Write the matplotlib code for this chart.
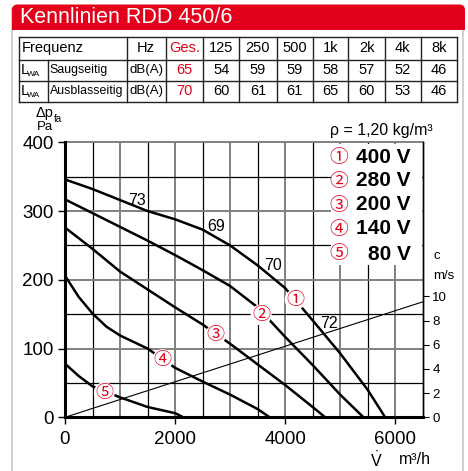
import matplotlib
matplotlib.use('Agg')
import matplotlib.pyplot as plt
from matplotlib.patches import FancyBboxPatch, Rectangle
from matplotlib.lines import Line2D

plt.rcParams['font.family'] = ['Liberation Sans', 'DejaVu Sans', 'Noto Sans CJK JP']
plt.rcParams['mathtext.fontset'] = 'custom'
plt.rcParams['mathtext.rm'] = 'Liberation Sans'
plt.rcParams['mathtext.it'] = 'Liberation Sans:italic'

# ---------------- data ----------------
title = "Kennlinien RDD 450/6"
freq_labels = ['125', '250', '500', '1k', '2k', '4k', '8k']
saug_total = 65
saug_values = [54, 59, 59, 58, 57, 52, 46]
ausb_total = 70
ausb_values = [60, 61, 61, 65, 60, 53, 46]

c1_x = [0, 500, 1000, 1500, 2000, 2500, 3000, 3500, 4000, 4500, 5000, 5500, 5818]
c1_y = [346, 332, 316, 300, 288, 273, 250, 221, 188, 141, 93, 40, 0]
c2_x = [0, 500, 1000, 1500, 2000, 2500, 3000, 3500, 4000, 4500, 5000, 5424]
c2_y = [317, 297, 277, 257, 236, 214, 191, 160, 117, 76, 33, 0]
c3_x = [0, 500, 1000, 1500, 2000, 2500, 3000, 3500, 4000, 4500, 4727]
c3_y = [276, 245, 212, 186, 160, 135, 107, 77, 47, 15, 0]
c4_x = [0, 250, 500, 750, 1000, 1500, 2000, 2500, 3000, 3500, 3720]
c4_y = [206, 175, 151, 132, 119, 100, 72, 52, 33, 12, 0]
c5_x = [0, 250, 500, 1000, 1500, 2000, 2150]
c5_y = [78, 60, 45, 29, 15, 6, 0]
curves_x = [c1_x, c2_x, c3_x, c4_x, c5_x]
curves_y = [c1_y, c2_y, c3_y, c4_y, c5_y]

marker_labels = ['①', '②', '③', '④', '⑤']
marker_x = [4182, 3564, 2727, 1776, 715]
marker_y = [171, 149, 119, 84, 36]
legend_labels = ['400 V', '280 V', '200 V', '140 V', '80 V']

noise_labels = ['73', '69', '70', '72']
noise_x = [1315, 2739, 3776, 4788]
noise_y = [316, 278, 221, 137]

c_line_x = [0, 6500]
c_line_v = [0, 9.55]

# ---------------- figure ----------------
W, H = 468, 471
fig = plt.figure(figsize=(W / 100, H / 100), dpi=100)

def fx(px):
    return px / W

def fy(py):
    return 1 - py / H

RED = '#e2001a'
CIRC_FONT = ['Noto Sans CJK JP', 'DejaVu Sans']
# outer frame
fig.patches.append(Rectangle((fx(12), fy(475)), fx(463) - fx(12), fy(8) - fy(475),
                             transform=fig.transFigure, fc='white', ec='#c8c8c8', lw=1.2, zorder=-10))
# title bar
fig.patches.append(FancyBboxPatch((fx(12), fy(30)), fx(465) - fx(12), fy(4.5) - fy(30),
                                  boxstyle='round,pad=0,rounding_size=0.012',
                                  transform=fig.transFigure, fc=RED, ec='none', zorder=-9))
fig.patches.append(Rectangle((fx(12), fy(30)), fx(465) - fx(12), fy(18) - fy(30),
                             transform=fig.transFigure, fc=RED, ec='none', zorder=-9))
fig.text(fx(20), fy(17.5), title, color='white', fontsize=15.5, va='center', ha='left')

# ---------------- table ----------------
col_b = [19, 126.7, 165.7, 203.3, 239.3, 276.7, 312.7, 348.3, 385, 420.7, 456.7]
row_b = [36.7, 60, 81, 101.7]
tcol = '#222222'
for x in col_b:
    fig.lines.append(Line2D([fx(x), fx(x)], [fy(row_b[0]), fy(row_b[-1])],
                            transform=fig.transFigure, color=tcol, lw=1.0))
for y in row_b:
    fig.lines.append(Line2D([fx(col_b[0]), fx(col_b[-1])], [fy(y), fy(y)],
                            transform=fig.transFigure, color=tcol, lw=1.0))
fig.lines.append(Line2D([fx(47.7), fx(47.7)], [fy(row_b[1]), fy(row_b[-1])],
                        transform=fig.transFigure, color=tcol, lw=1.0))

tfs = 10.5
rc = [(row_b[i] + row_b[i + 1]) / 2 for i in range(3)]
cc = [(col_b[i] + col_b[i + 1]) / 2 for i in range(len(col_b) - 1)]

fig.text(fx(21.5), fy(rc[0]), 'Frequenz', fontsize=tfs, va='center')
fig.text(fx(cc[1]), fy(rc[0]), 'Hz', fontsize=tfs, va='center', ha='center')
fig.text(fx(cc[2]), fy(rc[0]), 'Ges.', fontsize=tfs, va='center', ha='center', color=RED)
for i, lab in enumerate(freq_labels):
    fig.text(fx(cc[3 + i]), fy(rc[0]), lab, fontsize=tfs, va='center', ha='center')

for r, name, tot, vals in [(1, 'Saugseitig', saug_total, saug_values),
                           (2, 'Ausblasseitig', ausb_total, ausb_values)]:
    fig.text(fx(20.5), fy(rc[r]), 'L', fontsize=tfs, va='center')
    fig.text(fx(27.3), fy(rc[r] + 4.5), 'WA', fontsize=6, va='center')
    fig.text(fx(49.5), fy(rc[r]), name, fontsize=8.9, va='center')
    fig.text(fx(cc[1]), fy(rc[r]), 'dB(A)', fontsize=9.5, va='center', ha='center')
    fig.text(fx(cc[2]), fy(rc[r]), str(tot), fontsize=tfs, va='center', ha='center', color=RED)
    for i, v in enumerate(vals):
        fig.text(fx(cc[3 + i]), fy(rc[r]), str(v), fontsize=tfs, va='center', ha='center')

# ---------------- chart ----------------
L, R, T, B = 65, 422.7, 142.3, 417.3
ax = fig.add_axes([fx(L), fy(B), fx(R) - fx(L), fy(T) - fy(B)])
ax.set_xlim(0, 6500)
ax.set_ylim(0, 400)
ax.patch.set_alpha(0)

for x in range(500, 6500, 500):
    if x % 1000 == 0:
        ax.axvline(x, color='#808080', lw=1.4, zorder=1)
    else:
        ax.axvline(x, color='black', lw=0.9, zorder=1)
for y in range(50, 400, 50):
    if y % 100 == 0:
        ax.axhline(y, color='#808080', lw=1.4, zorder=1)
    else:
        ax.axhline(y, color='black', lw=0.9, zorder=1)

# legend white box
ax.add_patch(Rectangle((4836, 221), 6480 - 4836, 397 - 221, fc='white', ec='none', zorder=2))

for xs, ys in zip(curves_x, curves_y):
    ax.plot(xs, ys, color='black', lw=1.8, zorder=3, solid_capstyle='butt',
            solid_joinstyle='round')

for lab, x, y in zip(marker_labels, marker_x, marker_y):
    ax.text(x, y, lab, color=RED, fontsize=13, ha='center', va='center', zorder=4,
            family=CIRC_FONT,
            bbox=dict(boxstyle='circle,pad=0.08', fc='white', ec='none'))

for lab, x, y in zip(noise_labels, noise_x, noise_y):
    ax.text(x, y, lab, color='black', fontsize=11.5, ha='center', va='center', zorder=4)

# legend entries
leg_py = [157.3, 181, 205, 229, 254]
for lab, txt, py in zip(marker_labels, legend_labels, leg_py):
    fig.text(fx(339), fy(py), lab, color=RED, fontsize=13.5, ha='center', va='center', zorder=5,
             family=CIRC_FONT)
    fig.text(fx(410.5), fy(py), txt, color='black', fontsize=15, fontweight='bold',
             ha='right', va='center', zorder=5)

ax.spines['left'].set_linewidth(2.2)
ax.spines['bottom'].set_linewidth(2.2)
ax.spines['top'].set_color('#808080')
ax.spines['top'].set_linewidth(1.4)
ax.spines['right'].set_linewidth(1.0)
ax.spines['left'].set_zorder(5)
ax.spines['bottom'].set_zorder(5)

ax.set_xticks([0, 2000, 4000, 6000])
ax.set_yticks([0, 100, 200, 300, 400])
ax.tick_params(axis='both', labelsize=13.5, length=5, width=1.0, direction='out')
ax.tick_params(axis='x', pad=5)
ax.tick_params(axis='y', pad=3)

ax2 = ax.twinx()
ax2.set_ylim(0, 22.75)
ax2.set_yticks([0, 2, 4, 6, 8, 10])
ax2.tick_params(axis='y', labelsize=9.5, length=4, width=0.8, pad=3)
for s in ['left', 'top', 'bottom']:
    ax2.spines[s].set_visible(False)
ax2.spines['right'].set_linewidth(1.0)
ax2.plot(c_line_x, c_line_v, color='black', lw=0.8, zorder=3)

fig.text(fx(436.7), fy(256), 'c', fontsize=9.5, ha='center', va='center')
fig.text(fx(444), fy(275.7), 'm/s', fontsize=9.5, ha='center', va='center')

fig.text(fx(36), fy(113), 'Δp', fontsize=10.5, ha='left', va='center')
fig.text(fx(53.5), fy(118.5), 'fa', fontsize=7, ha='left', va='center')
fig.text(fx(37), fy(127), 'Pa', fontsize=9.5, ha='left', va='center')

fig.text(fx(433), fy(131), 'ρ = 1,20 kg/m³', fontsize=11.5, ha='right', va='center')
fig.text(fx(376.5), fy(460), r'$\dot{\mathrm{V}}$', fontsize=11.5, ha='center', va='center')
fig.text(fx(399), fy(460), 'm³/h', fontsize=11.5, ha='left', va='center')

fig.savefig('out.png', dpi=100)
